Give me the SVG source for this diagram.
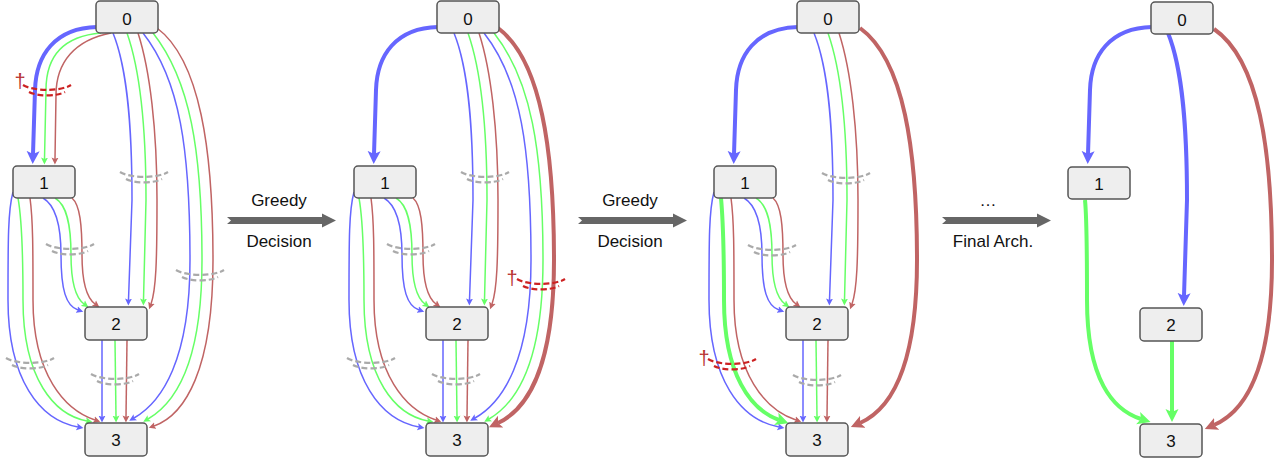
<svg xmlns="http://www.w3.org/2000/svg" width="1274" height="458" viewBox="0 0 1274 458">
<style>
.node rect{fill:#eeeeee;stroke:#555555;stroke-width:1.5}
.node text{font-family:"Liberation Sans",Arial,sans-serif;font-size:17px;fill:#111111;text-anchor:middle}
.e{fill:none;stroke-width:1.5}
.t{stroke-width:4}
.b{stroke:#6666ff}
.g{stroke:#66ff66}
.r{stroke:#c06464}
.b.e{marker-end:url(#mb)}
.g.e{marker-end:url(#mg)}
.r.e{marker-end:url(#mr)}
.b.t{marker-end:url(#Mb)}
.g.t{marker-end:url(#Mg)}
.r.t{marker-end:url(#Mr)}
.arc{fill:none;stroke-width:2.2;stroke-dasharray:6 3}
.gray{stroke:#aaaaaa}
.red{stroke:#cc2222}
.dag{font-family:"Liberation Sans",Arial,sans-serif;font-size:20px;fill:#b83333;text-anchor:middle}
.lbl{font-family:"Liberation Sans",Arial,sans-serif;font-size:17px;fill:#111111;text-anchor:middle}
.bigarrow{fill:#666666}
</style>
<defs>
<marker id="mb" markerUnits="userSpaceOnUse" viewBox="0 -4 8 8" markerWidth="8" markerHeight="8" refX="1.5" refY="0" orient="auto"><path d="M0,-3.5 L7,0 L0,3.5 L1.5,0 Z" fill="#6666ff"/></marker>
<marker id="mg" markerUnits="userSpaceOnUse" viewBox="0 -4 8 8" markerWidth="8" markerHeight="8" refX="1.5" refY="0" orient="auto"><path d="M0,-3.5 L7,0 L0,3.5 L1.5,0 Z" fill="#66ff66"/></marker>
<marker id="mr" markerUnits="userSpaceOnUse" viewBox="0 -4 8 8" markerWidth="8" markerHeight="8" refX="1.5" refY="0" orient="auto"><path d="M0,-3.5 L7,0 L0,3.5 L1.5,0 Z" fill="#c06464"/></marker>
<marker id="Mb" markerUnits="userSpaceOnUse" viewBox="0 -7 14 14" markerWidth="14" markerHeight="14" refX="3" refY="0" orient="auto"><path d="M0,-6.5 L13,0 L0,6.5 L3,0 Z" fill="#6666ff"/></marker>
<marker id="Mg" markerUnits="userSpaceOnUse" viewBox="0 -7 14 14" markerWidth="14" markerHeight="14" refX="3" refY="0" orient="auto"><path d="M0,-6.5 L13,0 L0,6.5 L3,0 Z" fill="#66ff66"/></marker>
<marker id="Mr" markerUnits="userSpaceOnUse" viewBox="0 -7 14 14" markerWidth="14" markerHeight="14" refX="3" refY="0" orient="auto"><path d="M0,-6.5 L13,0 L0,6.5 L3,0 Z" fill="#c06464"/></marker>
<path id="arcs" d="M-24,-5 A27 9 0 0 0 24,-5 M-18,2 A21 7 0 0 0 18,2"/>
<polygon id="bigarr" points="0,217 95,217 95,213.5 109,220.5 95,227.5 95,224 0,224 4,220.5"/>
</defs>

<!-- Panel 1 -->
<g id="panel1">
<g id="p1-connectors">
<path class="e g" d="M101,33 C65,36 46,55 46,90 L44.5,159"/>
<path class="e r" d="M111,33 C75,40 56,62 56,95 L55,159"/>
<path class="t b" fill="none" d="M97,27 C55,28 36,55 35,90 L33,154"/>
<path class="e b" d="M113,33 C128,70 132,130 132,200 L128.5,300"/>
<path class="e g" d="M127,33 C140,70 146,130 146,200 L143.5,300"/>
<path class="e r" d="M138,33 C150,70 157,130 157,200 C157,262 156,290 151,304"/>
<path class="e b" d="M143,33 C180,80 190,150 190,260 C190,360 162,402 134,418"/>
<path class="e g" d="M153,33 C190,80 202,150 202,260 C202,370 172,405 148,419"/>
<path class="e r" d="M157,28 C200,60 213,150 213,260 C213,370 185,415 154,426"/>
<path class="e b" d="M43,198 C55,205 61,225 61,255 C61,290 66,306 78,310"/>
<path class="e g" d="M55,198 C67,205 71,225 71,255 C71,285 76,298 84,304"/>
<path class="e r" d="M72,198 C80,205 82,225 82,255 C82,285 87,298 95,304"/>
<path class="e b" d="M13,192 C8,210 8,240 8,300 C8,380 40,420 78,427"/>
<path class="e g" d="M18,198 C22,220 23,250 23,300 C23,380 55,415 87,421"/>
<path class="e r" d="M30,198 C33,220 33,250 33,300 C33,375 65,410 95,420"/>
<path class="e b" d="M102,340 L102,417"/>
<path class="e g" d="M115,340 L116,417"/>
<path class="e r" d="M127,340 L126,417"/>
<use href="#arcs" class="arc red" x="47" y="90"/>
<text class="dag" x="20" y="88">†</text>
<use href="#arcs" class="arc gray" x="144" y="177"/>
<use href="#arcs" class="arc gray" x="70" y="249"/>
<use href="#arcs" class="arc gray" x="200" y="275"/>
<use href="#arcs" class="arc gray" x="30" y="363"/>
<use href="#arcs" class="arc gray" x="115" y="379"/>
</g>
<g id="p1-n0" class="node"><rect x="96" y="1" width="62" height="32" rx="4"/><text x="127" y="25">0</text></g>
<g id="p1-n1" class="node"><rect x="13" y="166" width="62" height="32" rx="4"/><text x="44" y="189">1</text></g>
<g id="p1-n2" class="node"><rect x="85" y="307" width="62" height="33" rx="4"/><text x="116" y="330">2</text></g>
<g id="p1-n3" class="node"><rect x="85" y="423" width="62" height="33" rx="4"/><text x="116" y="446">3</text></g>
</g>

<!-- Transition arrow 1 -->
<g id="step1">
<use href="#bigarr" class="bigarrow" x="227" y="0"/>
<text class="lbl" x="279" y="206">Greedy</text>
<text class="lbl" x="279" y="247">Decision</text>
</g>

<!-- Panel 2 -->
<g id="panel2" transform="translate(341,0)">
<g id="p2-connectors">
<path class="t b" fill="none" d="M97,27 C55,28 36,55 35,90 L33,154"/>
<path class="e b" d="M113,33 C128,70 132,130 132,200 L128.5,300"/>
<path class="e g" d="M127,33 C140,70 146,130 146,200 L143.5,300"/>
<path class="e r" d="M138,33 C150,70 157,130 157,200 C157,262 156,290 151,304"/>
<path class="e b" d="M143,33 C180,80 190,150 190,260 C190,360 162,402 134,418"/>
<path class="e g" d="M153,33 C190,80 202,150 202,260 C202,370 172,405 148,419"/>
<path class="t r" fill="none" d="M157,28 C200,60 213,150 213,260 C213,370 185,410 157,423"/>
<path class="e b" d="M43,198 C55,205 61,225 61,255 C61,290 66,306 78,310"/>
<path class="e g" d="M55,198 C67,205 71,225 71,255 C71,285 76,298 84,304"/>
<path class="e r" d="M72,198 C80,205 82,225 82,255 C82,285 87,298 95,304"/>
<path class="e b" d="M13,192 C8,210 8,240 8,300 C8,380 40,420 78,427"/>
<path class="e g" d="M18,198 C22,220 23,250 23,300 C23,380 55,415 87,421"/>
<path class="e r" d="M30,198 C33,220 33,250 33,300 C33,375 65,410 95,420"/>
<path class="e b" d="M102,340 L102,417"/>
<path class="e g" d="M115,340 L116,417"/>
<path class="e r" d="M127,340 L126,417"/>
<use href="#arcs" class="arc gray" x="144" y="177"/>
<use href="#arcs" class="arc gray" x="70" y="249"/>
<use href="#arcs" class="arc red" x="200" y="284"/>
<text class="dag" x="171" y="285">†</text>
<use href="#arcs" class="arc gray" x="30" y="363"/>
<use href="#arcs" class="arc gray" x="115" y="379"/>
</g>
<g id="p2-n0" class="node"><rect x="96" y="1" width="62" height="32" rx="4"/><text x="127" y="25">0</text></g>
<g id="p2-n1" class="node"><rect x="13" y="166" width="62" height="32" rx="4"/><text x="44" y="189">1</text></g>
<g id="p2-n2" class="node"><rect x="85" y="307" width="62" height="33" rx="4"/><text x="116" y="330">2</text></g>
<g id="p2-n3" class="node"><rect x="85" y="423" width="62" height="33" rx="4"/><text x="116" y="446">3</text></g>
</g>

<!-- Transition arrow 2 -->
<g id="step2">
<use href="#bigarr" class="bigarrow" x="578" y="0"/>
<text class="lbl" x="630" y="206">Greedy</text>
<text class="lbl" x="630" y="247">Decision</text>
</g>

<!-- Panel 3 -->
<g id="panel3" transform="translate(701,0)">
<g id="p3-connectors">
<path class="t b" fill="none" d="M97,27 C55,28 36,55 35,90 L33,154"/>
<path class="e b" d="M113,33 C128,70 132,130 132,200 L128.5,300"/>
<path class="e g" d="M127,33 C140,70 146,130 146,200 L143.5,300"/>
<path class="e r" d="M138,33 C150,70 157,130 157,200 C157,262 156,290 151,304"/>
<path class="t r" fill="none" d="M159,28 C203,60 216,150 216,260 C216,370 188,410 159,423"/>
<path class="e b" d="M43,198 C55,205 61,225 61,255 C61,290 66,306 78,310"/>
<path class="e g" d="M55,198 C67,205 71,225 71,255 C71,285 76,298 84,304"/>
<path class="e r" d="M72,198 C80,205 82,225 82,255 C82,285 87,298 95,304"/>
<path class="e b" d="M13,192 C8,210 8,240 8,300 C8,380 40,420 78,427"/>
<path class="t g" fill="none" d="M20,198 C22,220 23,250 23,300 C23,375 50,410 78,420"/>
<path class="e r" d="M30,198 C33,220 33,250 33,300 C33,375 65,410 95,420"/>
<path class="e b" d="M102,340 L102,417"/>
<path class="e g" d="M115,340 L116,417"/>
<path class="e r" d="M127,340 L126,417"/>
<use href="#arcs" class="arc gray" x="145" y="178"/>
<use href="#arcs" class="arc gray" x="71" y="250"/>
<use href="#arcs" class="arc red" x="31" y="364"/>
<text class="dag" x="3" y="365">†</text>
<use href="#arcs" class="arc gray" x="116" y="380"/>
</g>
<g id="p3-n0" class="node"><rect x="96" y="1" width="62" height="32" rx="4"/><text x="127" y="25">0</text></g>
<g id="p3-n1" class="node"><rect x="13" y="166" width="62" height="32" rx="4"/><text x="44" y="189">1</text></g>
<g id="p3-n2" class="node"><rect x="85" y="307" width="62" height="33" rx="4"/><text x="116" y="330">2</text></g>
<g id="p3-n3" class="node"><rect x="85" y="423" width="62" height="33" rx="4"/><text x="116" y="446">3</text></g>
</g>

<!-- Transition arrow 3 -->
<g id="step3">
<use href="#bigarr" class="bigarrow" x="942" y="0"/>
<text class="lbl" x="988" y="206">…</text>
<text class="lbl" x="993" y="247">Final Arch.</text>
</g>

<!-- Panel 4 -->
<g id="panel4" transform="translate(1055,0)">
<g id="p4-connectors">
<path class="t b" fill="none" d="M97,27 C55,28 36,55 35,90 L33,154"/>
<path class="t b" fill="none" d="M113,33 C128,70 132,130 132,200 L129,296"/>
<path class="t r" fill="none" d="M159,29 C204,60 217,150 217,260 C217,372 189,412 159,425"/>
<path class="t g" fill="none" d="M30,200 C32,220 32,260 32,300 C32,380 58,410 86,419"/>
<path class="t g" fill="none" d="M117,341 L117,412"/>
</g>
<g id="p4-n0" class="node"><rect x="96" y="2" width="62" height="32" rx="4"/><text x="127" y="26">0</text></g>
<g id="p4-n1" class="node"><rect x="13" y="167" width="62" height="32" rx="4"/><text x="44" y="190">1</text></g>
<g id="p4-n2" class="node"><rect x="85" y="308" width="62" height="33" rx="4"/><text x="116" y="331">2</text></g>
<g id="p4-n3" class="node"><rect x="85" y="424" width="62" height="33" rx="4"/><text x="116" y="447">3</text></g>
</g>
</svg>
